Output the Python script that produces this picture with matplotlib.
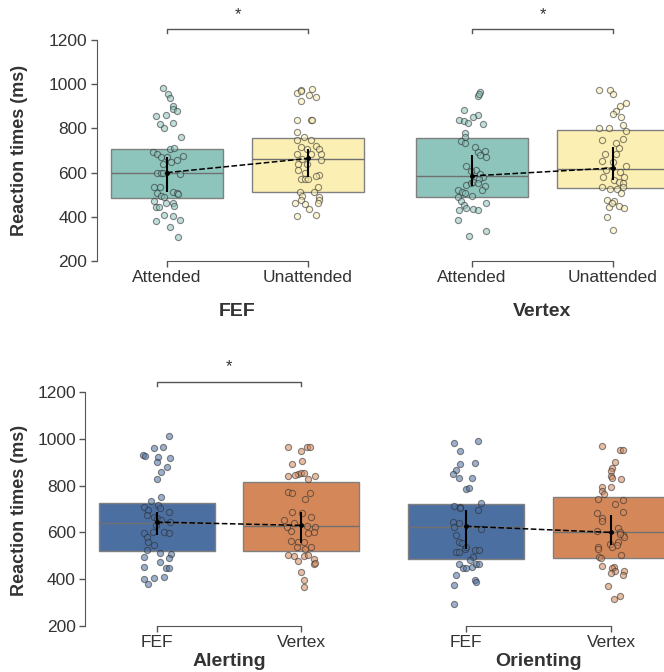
import numpy as np
import matplotlib
matplotlib.use('Agg')
from matplotlib import pyplot
from matplotlib.colors import to_rgba

W, H = 664, 672
CLR_TEXT = '#333333'
CLR_SPINE = '#555555'
CLR_BOX_EDGE = '#808080'
TEAL, YELLOW = '#8dc4bc', '#fcefb3'
BLUE, ORANGE = '#4c6fa1', '#d4885a'

# ---- data (ms) ----
# jittered points: value and horizontal offset from the category centre
fef_att_rt = [985, 954, 937, 901, 886, 879, 857, 862, 821, 824, 800, 759, 694, 682, 670, 670,
              708, 712, 640, 649, 655, 673, 599, 597, 600, 594, 535, 537, 514, 507, 505, 509,
              493, 490, 473, 464, 463, 443, 443, 448, 410, 404, 381, 384, 356, 309]
fef_att_jit = [-.03, .01, .02, .04, .04, .07, -.08, -.01, -.05, .04, -.02, .10, -.10, -.07, -.04, .00,
               .02, .05, -.03, .03, .07, .11, -.07, -.04, -.03, .09, -.09, -.05, .04, .07, .08, -.07,
               -.04, -.02, -.09, -.01, .04, -.08, -.06, .05, -.02, .04, -.08, .09, .02, .08]
fef_unatt_rt = [976, 958, 978, 970, 951, 940, 925, 840, 837, 837, 783, 762, 747, 747, 717, 709,
                721, 706, 686, 686, 683, 662, 659, 641, 641, 614, 597, 587, 572, 573, 570, 585,
                510, 535, 495, 510, 475, 490, 464, 457, 437, 475, 464, 402, 407]
fef_unatt_jit = [-.05, -.08, .03, -.05, .01, .06, -.05, -.08, .02, .03, -.08, -.03, .02, -.08, -.05, -.01,
                 .06, .08, .02, .09, -.08, -.04, .09, -.07, -.01, -.07, -.02, .08, -.05, -.02, .00, .06,
                 -.06, .07, -.04, .04, -.05, .08, -.09, -.02, .01, .08, .07, -.08, .06]
vtx_att_rt = [964, 946, 955, 881, 862, 853, 837, 833, 825, 821, 777, 762, 744, 736, 714, 694,
              697, 679, 671, 629, 611, 605, 594, 581, 572, 543, 553, 558, 552, 538, 520, 520,
              513, 508, 490, 493, 472, 455, 440, 437, 433, 430, 464, 387, 336, 312]
vtx_att_jit = [.06, .04, .05, -.06, .04, .01, -.09, -.06, -.03, .08, -.05, -.05, -.08, -.05, .02, .04,
               .09, .06, .10, -.04, .03, -.01, .06, .08, .05, -.04, -.01, .01, .04, .09, .07, -.10,
               -.07, -.05, -.10, .00, -.08, -.06, -.04, .01, .04, -.09, .10, -.10, .10, -.02]
vtx_unatt_rt = [973, 973, 954, 913, 901, 880, 865, 850, 815, 803, 804, 788, 747, 736, 751, 712,
                686, 686, 653, 646, 629, 614, 603, 581, 566, 558, 553, 581, 535, 535, 528, 528,
                508, 478, 470, 448, 442, 445, 463, 399, 339]
vtx_unatt_jit = [-.10, -.02, .00, .09, .05, .02, .00, .06, .07, -.10, -.03, .09, -.08, .02, .07, .04,
                 -.06, .02, -.08, .00, .09, -.05, .05, -.07, .01, .04, .07, .08, .07, -.08, -.02, .03,
                 .06, -.04, .01, .04, .08, -.03, -.01, -.04, .00]
alert_fef_rt = [1013, 960, 967, 931, 927, 924, 917, 900, 879, 860, 830, 750, 733, 707, 696, 716,
                703, 689, 674, 667, 660, 653, 646, 631, 603, 599, 581, 603, 597, 560, 546, 524,
                513, 506, 489, 493, 474, 446, 453, 446, 410, 403, 399, 381]
alert_fef_jit = [.08, -.02, .04, -.10, -.08, .01, .09, .00, .07, .03, .00, .03, -.04, -.09, -.06, .01,
                 .02, .08, -.07, -.02, .00, .03, .09, -.01, -.03, -.09, -.07, .05, .08, -.06, -.02, -.07,
                 .02, .10, .08, -.09, .02, .06, -.09, .08, .05, -.02, -.09, -.06]
alert_vtx_rt = [963, 963, 967, 949, 903, 891, 850, 853, 855, 841, 846, 839, 827, 774, 770, 770,
                744, 689, 681, 664, 653, 641, 627, 624, 603, 599, 606, 624, 564, 559, 560, 539,
                539, 527, 503, 499, 499, 503, 477, 486, 464, 470, 431, 396, 367]
alert_vtx_jit = [-.09, .04, .06, .00, .01, -.06, -.02, .00, .02, -.09, -.04, .10, .05, -.09, -.06, .06,
                 .03, -.06, .01, .07, -.12, -.05, .04, .10, .09, .05, -.07, -.10, -.07, -.02, .02, .07,
                 -.03, .03, -.09, -.05, .02, .05, -.02, .09, .09, .10, .00, .02, .02]
orient_fef_rt = [984, 991, 949, 893, 896, 867, 850, 833, 833, 784, 789, 727, 713, 710, 703, 696,
                 646, 639, 624, 613, 589, 560, 553, 517, 517, 531, 536, 524, 524, 496, 484, 449,
                 449, 453, 464, 467, 467, 417, 396, 389, 374, 296]
orient_fef_jit = [-.08, .08, -.04, -.04, .06, -.07, -.09, -.05, .04, .00, .02, .10, -.08, -.04, -.04, .08,
                  -.09, -.05, -.08, .10, -.07, -.05, -.03, -.07, -.05, -.01, .00, .06, .09, .05, .03, -.02,
                  .00, .04, .07, .09, -.05, -.07, .06, .07, -.08, -.08]
orient_vtx_rt = [970, 950, 952, 899, 874, 863, 841, 834, 827, 793, 779, 764, 796, 721, 743, 737,
                 689, 681, 663, 649, 617, 603, 589, 579, 560, 546, 549, 607, 593, 539, 531, 536,
                 503, 493, 489, 456, 453, 450, 437, 427, 437, 416, 370, 316, 327]
orient_vtx_jit = [-.06, .06, .08, .03, .01, .00, .00, .01, .07, -.06, -.06, -.05, .00, .03, -.09, .08,
                  .08, -.10, -.06, -.06, .05, .06, .08, .09, .05, .04, -.01, -.10, .06, -.09, -.09, .01,
                  .07, -.08, -.07, -.06, .02, .01, .03, .00, .09, .08, -.02, .02, .06]

# box summaries (q1, median, q3) and mean with error bar (low, high)
fef_q1, fef_med, fef_q3 = [485, 513], [596, 661], [709, 756]
fef_mean, fef_lo, fef_hi = [600, 664], [513, 581], [671, 706]
vtx_q1, vtx_med, vtx_q3 = [489, 531], [584, 618], [756, 795]
vtx_mean, vtx_lo, vtx_hi = [585, 621], [541, 566], [679, 714]
alert_q1, alert_med, alert_q3 = [520, 521], [641, 629], [727, 816]
alert_mean, alert_lo, alert_hi = [644, 630], [589, 556], [689, 689]
orient_q1, orient_med, orient_q3 = [486, 489], [624, 600], [721, 753]
orient_mean, orient_lo, orient_hi = [626, 600], [531, 546], [696, 674]

cue_labels = ['Attended', 'Unattended']
site_labels = ['FEF', 'Vertex']


def _style_axes(ax, show_y):
    ax.set_xlim(-0.5, 1.5)
    ax.set_ylim(200, 1200)
    for side in ('top', 'right'):
        ax.spines[side].set_visible(False)
    ax.spines['bottom'].set_bounds(0, 1)
    ax.spines['bottom'].set_color(CLR_SPINE)
    ax.spines['left'].set_color(CLR_SPINE)
    ax.tick_params(colors=CLR_SPINE, labelcolor=CLR_TEXT, labelsize=12.5, length=4, width=1, pad=2.5)
    ax.set_xticks([0, 1])
    if show_y:
        ax.set_yticks(np.arange(200, 1201, 200))
        ax.spines['left'].set_bounds(200, 1200)
    else:
        ax.spines['left'].set_visible(False)
        ax.set_yticks([])
    ax.set_facecolor('none')


def draw_panel(ax, groups, jitters, q1, med, q3, mean, lo, hi, colors, ticklabels, title,
               title_y, show_y, bracket):
    _style_axes(ax, show_y)
    stats = [{'q1': q1[i], 'med': med[i], 'q3': q3[i], 'whislo': q1[i], 'whishi': q3[i],
              'fliers': []} for i in range(2)]
    bp = ax.bxp(stats, positions=[0, 1], widths=0.8, patch_artist=True, showcaps=False,
                showfliers=False, whiskerprops={'linewidth': 0},
                medianprops={'color': '#707070', 'linewidth': 1},
                boxprops={'edgecolor': CLR_BOX_EDGE, 'linewidth': 1}, manage_ticks=False)
    for box, color in zip(bp['boxes'], colors):
        box.set_facecolor(color)
        box.set_clip_on(False)
    for i, (rt, jit) in enumerate(zip(groups, jitters)):
        ax.scatter(np.add(i, jit), rt, s=20, facecolors=[to_rgba(colors[i], 0.55)],
                   edgecolors=[to_rgba('#2a2a2a', 0.55)], linewidths=0.8, zorder=3)
    ax.plot([0, 1], mean, color='black', linestyle='--', linewidth=1.1, zorder=4)
    ax.errorbar([0, 1], mean, yerr=[np.subtract(mean, lo), np.subtract(hi, mean)], fmt='o',
                color='black', markersize=2.5, elinewidth=1.5, capsize=0, zorder=5)
    ax.set_xticklabels(ticklabels)
    ax.set_xlabel(title, fontsize=14, fontweight='bold', color=CLR_TEXT)
    ax.xaxis.set_label_coords(0.5, title_y)
    ax.xaxis.label.set_va('top')
    if bracket:
        y_line, y_end, y_star = bracket
        ax.plot([0, 0, 1, 1], [y_end, y_line, y_line, y_end], color=CLR_SPINE, linewidth=1,
                clip_on=False)
        ax.text(0.5, y_star, '*', ha='center', va='center', fontsize=12, color=CLR_TEXT)


pyplot.rcParams['font.family'] = ['Liberation Sans', 'DejaVu Sans']
fig = pyplot.figure(figsize=(W / 100, H / 100), dpi=100)


def add_axes_px(left, bottom_px, width, height):
    # bottom_px is the pixel row (from the top) of the y=200 line
    return fig.add_axes([left / W, (H - bottom_px) / H, width / W, height / H])


ax1 = add_axes_px(96.5, 261, 282, 221)
ax2 = add_axes_px(401.5, 261, 282, 221)
ax3 = add_axes_px(85, 626, 288, 234)
ax4 = add_axes_px(393.5, 626, 290, 234)

draw_panel(ax1, [fef_att_rt, fef_unatt_rt], [fef_att_jit, fef_unatt_jit], fef_q1, fef_med, fef_q3,
           fef_mean, fef_lo, fef_hi, [TEAL, YELLOW], cue_labels, 'FEF', -0.19, True, (1250, 1232, 1315))
draw_panel(ax2, [vtx_att_rt, vtx_unatt_rt], [vtx_att_jit, vtx_unatt_jit], vtx_q1, vtx_med, vtx_q3,
           vtx_mean, vtx_lo, vtx_hi, [TEAL, YELLOW], cue_labels, 'Vertex', -0.19, False,
           (1250, 1232, 1315))
draw_panel(ax3, [alert_fef_rt, alert_vtx_rt], [alert_fef_jit, alert_vtx_jit], alert_q1, alert_med,
           alert_q3, alert_mean, alert_lo, alert_hi, [BLUE, ORANGE], site_labels, 'Alerting', -0.115,
           True, (1243, 1226, 1310))
draw_panel(ax4, [orient_fef_rt, orient_vtx_rt], [orient_fef_jit, orient_vtx_jit], orient_q1,
           orient_med, orient_q3, orient_mean, orient_lo, orient_hi, [BLUE, ORANGE], site_labels,
           'Orienting', -0.115, False, None)

for y_px in (150, 510):
    fig.text(20 / W, 1 - y_px / H, 'Reaction times (ms)', rotation=90, ha='center', va='center',
             fontsize=13, fontweight='bold', color=CLR_TEXT)

fig.savefig('out.png', dpi=100)
